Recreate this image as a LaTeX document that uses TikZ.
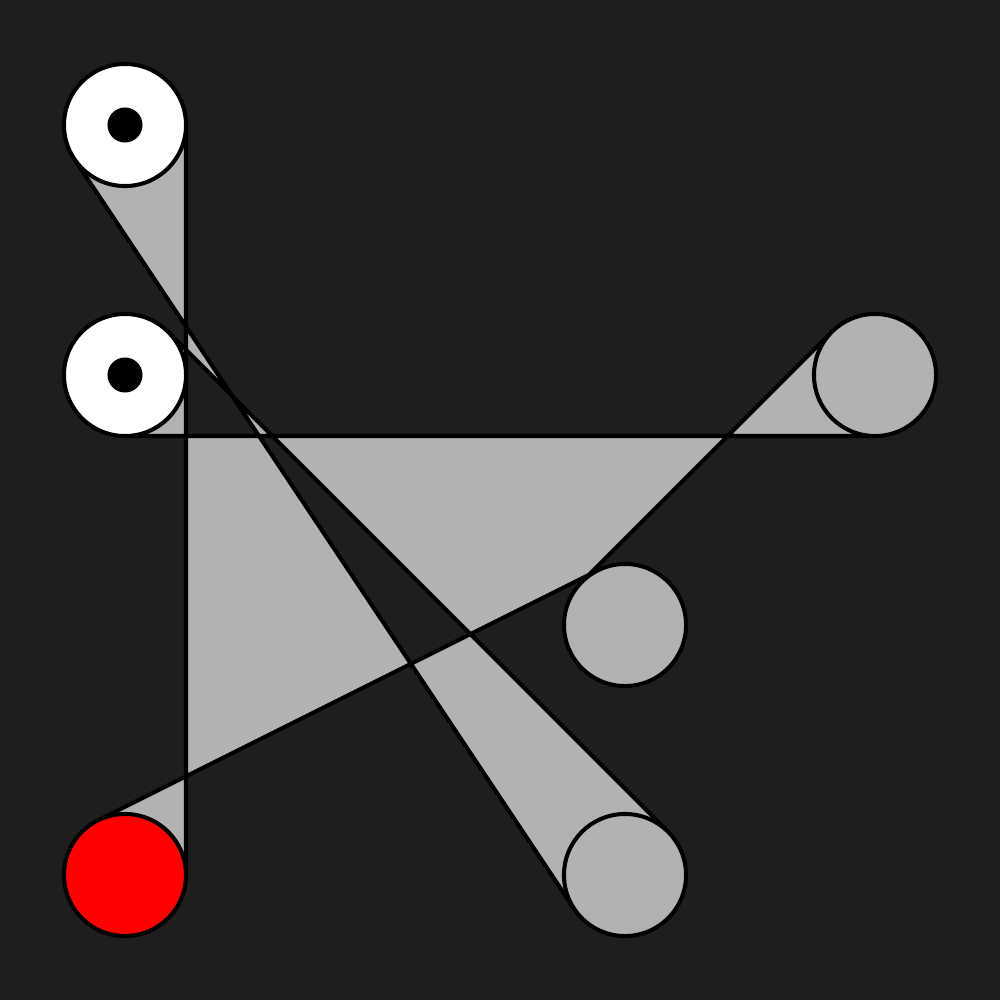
\documentclass[tikz,border=0pt]{standalone}
\definecolor{bg}{RGB}{30,30,30}
\definecolor{beltgray}{RGB}{179,177,180}
\tikzset{
  pulley/.style={circle, draw=black, line width=1.15pt, inner sep=0pt, minimum size=1.22cm},
  hub/.style={circle, fill=black, inner sep=0pt, minimum size=0.35cm},
  belt/.style={fill=beltgray, draw=black, line width=1.15pt, line join=round}
}
\begin{document}
\begin{tikzpicture}[x=0.01cm, y=-0.01cm]
\fill[bg] (0,0) rectangle (1000,1000);
\useasboundingbox (0,0) rectangle (1000,1000);
% tangent points
\coordinate (Ar) at (186,125);
\coordinate (Fr) at (186,875);
\coordinate (Ft) at (97.7,820.4);
\coordinate (Dt1) at (597.7,570.4);
\coordinate (Dt2) at (581.9,581.9);
\coordinate (Ct) at (831.9,331.9);
\coordinate (Cb) at (875,436);
\coordinate (Bb) at (125,436);
\coordinate (Bt) at (168.1,331.9);
\coordinate (Et) at (668.1,831.9);
\coordinate (Et2) at (574.2,908.8);
\coordinate (At) at (74.2,158.8);
% belt
\path[belt] (Ar) -- (Fr) -- (Ft) -- (Dt1) -- (Dt2) -- (Ct) -- (Cb) -- (Bb) -- (Bt) -- (Et) -- (Et2) -- (At) -- cycle;
% pulleys
\node[pulley, fill=white] (A) at (125,125) {};
\node[pulley, fill=white] (B) at (125,375) {};
\node[pulley, fill=beltgray] (C) at (875,375) {};
\node[pulley, fill=beltgray] (D) at (625,625) {};
\node[pulley, fill=beltgray] (E) at (625,875) {};
\node[pulley, fill=red] (F) at (125,875) {};
\node[hub] (Ah) at (A.center) {};
\node[hub] (Bh) at (B.center) {};
\end{tikzpicture}
\end{document}
